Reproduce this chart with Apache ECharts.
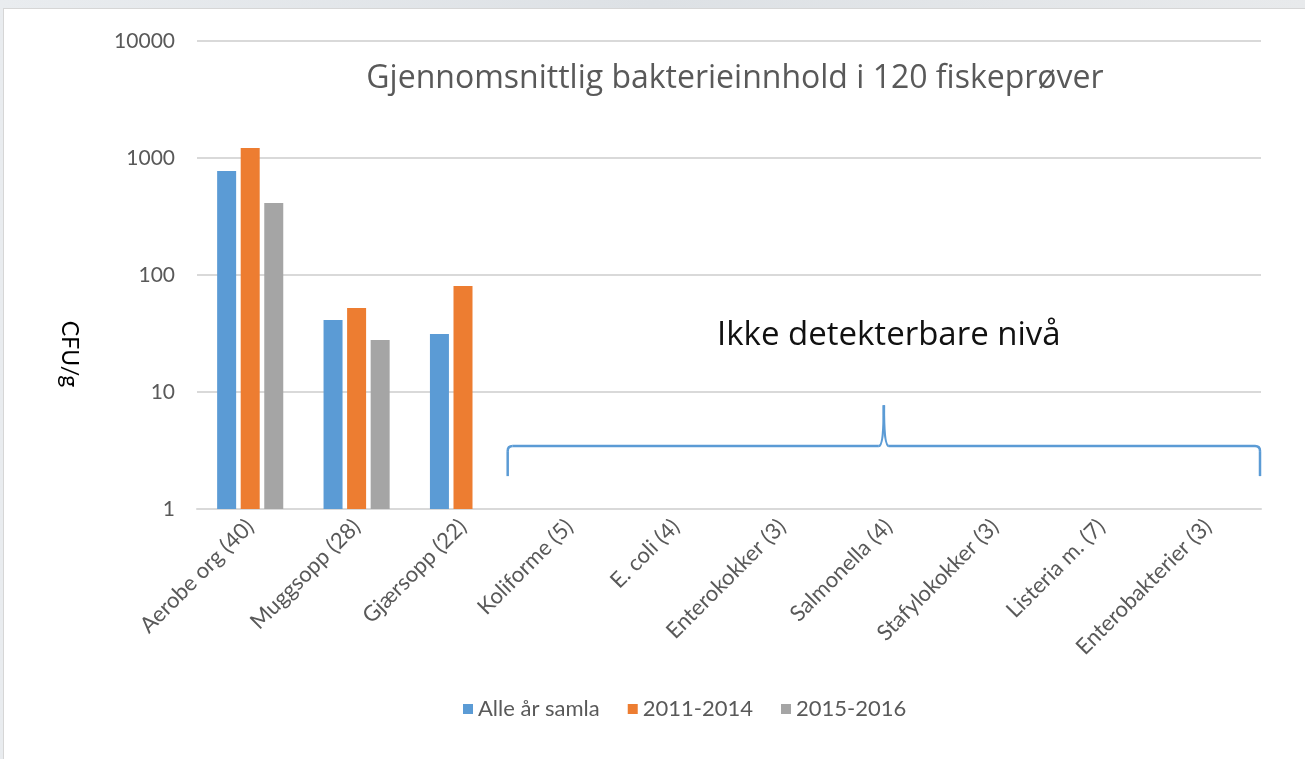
<!DOCTYPE html>
<html><head><meta charset="utf-8">
<script src="https://cdn.jsdelivr.net/npm/echarts@6/dist/echarts.min.js"></script>
<style>
html,body{margin:0;padding:0;width:1305px;height:759px;overflow:hidden;background:linear-gradient(90deg,#e9ecef 0%,#dde1e5 50%,#e8eaec 100%);}
#panel{position:absolute;left:3px;top:8px;right:0;bottom:0;background:#fff;border-left:1px solid #d6d6d6;border-top:1px solid #d6d6d6;}
#chart{position:absolute;left:0;top:0;width:1305px;height:759px;}
</style></head><body><div id="panel"></div><div id="chart"></div>
<script>
const categories = ['Aerobe org (40)','Muggsopp (28)','Gjærsopp (22)','Koliforme (5)','E. coli (4)','Enterokokker (3)','Salmonella (4)','Stafylokokker (3)','Listeria m. (7)','Enterobakterier (3)'];
const seriesNames = ['Alle år samla','2011-2014','2015-2016'];
const alleAar   = [774, 41.2, 31.3, null, null, null, null, null, null, null];
const aar2011_2014 = [1218, 52.2, 80.5, null, null, null, null, null, null, null];
const aar2015_2016 = [412, 27.8, null, null, null, null, null, null, null, null];
const yMin = 1, yMax = 10000;
const titleText = 'Gjennomsnittlig bakterieinnhold i 120 fiskeprøver';
const noteText = 'Ikke detekterbare nivå';
const yAxisTitle = 'CFU/g';
// brace annotation levels (value-axis units) and category span
const braceFirstCat = 3, braceLastCat = 9;
const braceBottom = 1.91, braceLine = 3.45, braceTip = 7.7, noteLevel = 30.5;

const colors = ['#5b9bd5','#ed7d31','#a5a5a5'];
const seriesData = [alleAar, aar2011_2014, aar2015_2016];
const chart = echarts.init(document.getElementById('chart'), null, {renderer:'canvas'});
const labelFont = 'Lato, "Noto Sans", sans-serif';
const baseGraphic = [
  {type:'text', x:735, y:79, style:{text:titleText, fill:'#595959', font:'32px "Open Sans", "Noto Sans", sans-serif', textAlign:'center', textVerticalAlign:'middle'}},
  {type:'text', x:69, y:354, rotation:-Math.PI/2, style:{text:yAxisTitle, fill:'#000', font:'23px Lato, "Noto Sans", sans-serif', textAlign:'center', textVerticalAlign:'middle'}}
];
chart.setOption({
  animation:false,
  backgroundColor:'transparent',
  color: colors,
  grid:{left:197, right:44, top:41, bottom:250, containLabel:false},
  legend:{
    data: seriesNames, left:458, top:693, icon:'rect', itemWidth:10, itemHeight:10, itemGap:28,
    textStyle:{color:'#595959', fontSize:22, fontFamily:labelFont}
  },
  xAxis:{
    type:'category', data:categories,
    axisLine:{lineStyle:{color:'#d9d9d9', width:2}},
    axisTick:{show:false},
    axisLabel:{interval:0, rotate:45, margin:14, color:'#595959', fontSize:22, fontFamily:labelFont}
  },
  yAxis:{
    type:'log', logBase:10, min:yMin, max:yMax,
    axisLine:{show:false}, axisTick:{show:false}, minorTick:{show:false},
    splitLine:{lineStyle:{color:'#d9d9d9', width:2}},
    axisLabel:{margin:22, color:'#595959', fontSize:21, fontFamily:labelFont, formatter:(v)=>String(Math.round(v))}
  },
  series: seriesNames.map((n,i)=>({
    name:n, type:'bar', data:seriesData[i], barWidth:19, barGap:'24%',
    itemStyle:{color:colors[i]}
  })),
  graphic: baseGraphic
});

// Brace and note, positioned through the chart's own axes
const band = chart.convertToPixel({xAxisIndex:0}, categories[1]) - chart.convertToPixel({xAxisIndex:0}, categories[0]);
const xl = chart.convertToPixel({xAxisIndex:0}, categories[braceFirstCat]) - band*0.58;
const xr = chart.convertToPixel({xAxisIndex:0}, categories[braceLastCat]) + band*0.5 - 1;
const xm = (xl + xr)/2;
const yb = chart.convertToPixel({yAxisIndex:0}, braceBottom);
const yl = chart.convertToPixel({yAxisIndex:0}, braceLine);
const yt = chart.convertToPixel({yAxisIndex:0}, braceTip);
const yn = chart.convertToPixel({yAxisIndex:0}, noteLevel);
const r = 5;
const st = {stroke:'#5b9bd5', lineWidth:2.5, fill:null};
const braceParts = [
  {type:'line', shape:{x1:xl, y1:yb, x2:xl, y2:yl+r}, style:st},
  {type:'bezierCurve', shape:{x1:xl, y1:yl+r, cpx1:xl, cpy1:yl, x2:xl+r, y2:yl}, style:st},
  {type:'line', shape:{x1:xl+r, y1:yl, x2:xm-5, y2:yl}, style:st},
  {type:'bezierCurve', shape:{x1:xm-5, y1:yl, cpx1:xm, cpy1:yl, x2:xm, y2:yt}, style:st},
  {type:'bezierCurve', shape:{x1:xm, y1:yt, cpx1:xm, cpy1:yl, x2:xm+5, y2:yl}, style:st},
  {type:'line', shape:{x1:xm+5, y1:yl, x2:xr-r, y2:yl}, style:st},
  {type:'bezierCurve', shape:{x1:xr-r, y1:yl, cpx1:xr, cpy1:yl, x2:xr, y2:yl+r}, style:st},
  {type:'line', shape:{x1:xr, y1:yl+r, x2:xr, y2:yb}, style:st}
];
chart.setOption({
  graphic: baseGraphic.concat(braceParts, [
    {type:'text', x:xm+5, y:yn, style:{text:noteText, fill:'#111', font:'33px "Open Sans", "Noto Sans", sans-serif', textAlign:'center', textVerticalAlign:'middle'}}
  ])
}, {replaceMerge:['graphic']});
</script></body></html>
